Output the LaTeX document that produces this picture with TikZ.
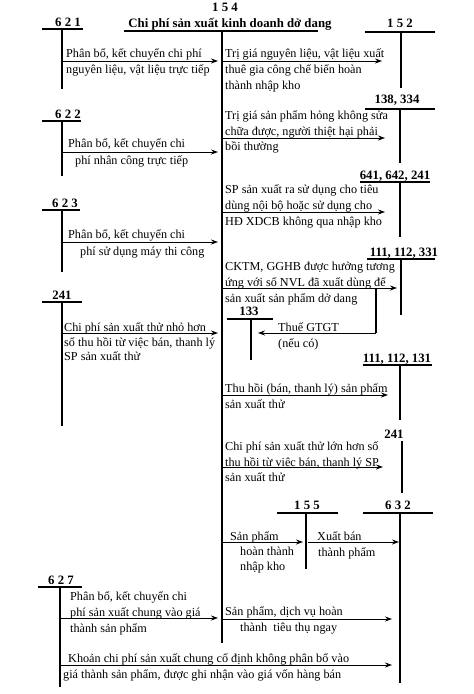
\documentclass[tikz,border=0pt]{standalone}
\usepackage{fontspec}
\setmainfont{Liberation Serif}
\usetikzlibrary{arrows.meta}
\tikzset{
  acct/.style={font=\fontsize{12.8}{15}\selectfont\bfseries, inner sep=0pt, anchor=base},
  txt/.style={font=\fontsize{12.2}{14}\selectfont, inner sep=0pt, anchor=base west},
  tline/.style={line width=1.3pt},
  mainline/.style={line width=2pt},
  flow/.style={->, line width=0.9pt},
}

\begin{document}
\begin{tikzpicture}[x=1pt, y=-1pt, >={Stealth[length=7pt, width=5pt]}]
        \useasboundingbox (0,0) rectangle (474,694);

        % Account 154
        \node[acct] (n154) at (225,11) {1 5 4};
        \node[acct] (t154) at (230,27) {Chi phí sản xuất kinh doanh dở dang};
        \coordinate (top154) at (222,31);
        \coordinate (bot154) at (222,643);
        \draw[tline] (124,31) -- (318,31);
        \draw[mainline] (top154) -- (bot154);

        % Debit side accounts (left)
        \node[acct] (n621) at (68,26) {6 2 1};
        \coordinate (v621) at (62,29);
        \draw[tline] (42,29) -- (83,29);
        \draw[tline] (v621) -- (62,89);

        \node[acct] (n622) at (68,118) {6 2 2};
        \coordinate (v622) at (62,121);
        \draw[tline] (42,121) -- (81,121);
        \draw[tline] (v622) -- (62,176);

        \node[acct] (n623) at (65,207) {6 2 3};
        \coordinate (v623) at (62,210);
        \draw[tline] (42,210) -- (80,210);
        \draw[tline] (v623) -- (62,272);

        \node[acct] (n241a) at (62,299) {241};
        \coordinate (v241a) at (62,302);
        \draw[tline] (42,302) -- (82,302);
        \draw[tline] (v241a) -- (62,426);

        \node[acct] (n627) at (61,584) {6 2 7};
        \coordinate (v627) at (60,587);
        \draw[tline] (38,587) -- (82,587);
        \draw[tline] (v627) -- (60,687);

        % Credit side accounts (right)
        \node[acct] (n152) at (400,27) {1 5 2};
        \coordinate (v152) at (401,32);
        \draw[tline] (365,32) -- (435,32);
        \draw[tline] (v152) -- (401,88);

        \node[acct] (n138) at (397,103) {138, 334};
        \coordinate (v138) at (400,109);
        \draw[tline] (365,109) -- (435,109);
        \draw[tline] (v138) -- (400,163);

        \node[acct] (n641) at (395,179) {641, 642, 241};
        \coordinate (v641) at (400,182);
        \draw[tline] (360,182) -- (430,182);
        \draw[tline] (v641) -- (400,237);

        \node[acct] (n111a) at (404,256) {111, 112, 331};
        \coordinate (v111a) at (401,259);
        \draw[tline] (367,259) -- (435,259);
        \draw[tline] (v111a) -- (401,315);

        \node[acct] (n133) at (249,315) {133};
        \coordinate (v133) at (251,319);
        \draw[tline] (227,319) -- (273,319);
        \draw[tline] (v133) -- (251,360);

        \node[acct] (n111b) at (397,362) {111, 112, 131};
        \coordinate (v111b) at (400,365);
        \draw[tline] (363,365) -- (432,365);
        \draw[tline] (v111b) -- (400,420);

        \node[acct] (n241b) at (394,438) {241};
        \coordinate (v241b) at (402,441);
        \draw[tline] (v241b) -- (402,493);

        \node[acct] (n155) at (307,509) {1 5 5};
        \coordinate (v155) at (306,513);
        \draw[tline] (277,513) -- (338,513);
        \draw[tline] (v155) -- (306,569);

        \node[acct] (n632) at (398,509) {6 3 2};
        \coordinate (v632) at (400,513);
        \draw[tline] (363,513) -- (433,513);
        \draw[tline] (v632) -- (400,683);

        % Arrow end points
        \coordinate (a1) at (62,61);   \coordinate (b1) at (218,61);
        \coordinate (a2) at (62,152);  \coordinate (b2) at (218,152);
        \coordinate (a3) at (62,242);  \coordinate (b3) at (218,242);
        \coordinate (a4) at (62,333);  \coordinate (b4) at (218,333);
        \coordinate (a5) at (60,618);  \coordinate (b5) at (218,618);
        \coordinate (a6) at (60,665);  \coordinate (b6) at (392,665);
        \coordinate (c1) at (222,61);  \coordinate (d1) at (382,61);
        \coordinate (c2) at (222,138); \coordinate (d2) at (385,138);
        \coordinate (c3) at (222,212); \coordinate (d3) at (385,212);
        \coordinate (c4) at (222,288); \coordinate (d4) at (397,288);
        \coordinate (k4) at (376,288); \coordinate (g4) at (376,333);
        \coordinate (t4) at (258,333);
        \coordinate (c5) at (222,395); \coordinate (d5) at (388,395);
        \coordinate (c6) at (222,467); \coordinate (d6) at (383,467);
        \coordinate (c7) at (222,542); \coordinate (d7) at (303,542);
        \coordinate (c8) at (308,542); \coordinate (d8) at (399,542);
        \coordinate (c9) at (222,619); \coordinate (d9) at (392,619);

        % Entries into 154
        \draw[flow] (a1) -- (b1);
        \node[txt] (e1a) at (66,57) {Phân bổ, kết chuyển chi phí};
        \node[txt] (e1b) at (66,73) {nguyên liệu, vật liệu trực tiếp};

        \draw[flow] (a2) -- (b2);
        \node[txt] (e2a) at (68,147) {Phân bổ, kết chuyển chi};
        \node[txt] (e2b) at (75,164) {phí nhân công trực tiếp};

        \draw[flow] (a3) -- (b3);
        \node[txt] (e3a) at (68,238) {Phân bổ, kết chuyển chi};
        \node[txt] (e3b) at (80,255) {phí sử dụng máy thi công};

        \draw[flow] (a4) -- (b4);
        \node[txt] (e4a) at (64,331) {Chi phí sản xuất thử nhỏ hơn};
        \node[txt] (e4b) at (64,346) {số thu hồi từ việc bán, thanh lý};
        \node[txt] (e4c) at (64,360) {SP sản xuất thử};

        \draw[flow] (a5) -- (b5);
        \node[txt] (e5a) at (70,600) {Phân bổ, kết chuyển chi};
        \node[txt] (e5b) at (70,616) {phí sản xuất chung vào giá};
        \node[txt] (e5c) at (70,632) {thành sản phẩm};

        \draw[flow] (a6) -- (b6);
        \node[txt] (e6a) at (68,662) {Khoản chi phí sản xuất chung cố định không phân bổ vào};
        \node[txt] (e6b) at (63,678) {giá thành sản phẩm, được ghi nhận vào giá vốn hàng bán};

        % Entries out of 154
        \draw[flow] (c1) -- (d1);
        \node[txt] (f1a) at (225,57) {Trị giá nguyên liệu, vật liệu xuất};
        \node[txt] (f1b) at (225,73) {thuê gia công chế biến hoàn};
        \node[txt] (f1c) at (225,89) {thành nhập kho};

        \draw[flow] (c2) -- (d2);
        \node[txt] (f2a) at (225,119) {Trị giá sản phẩm hỏng không sửa};
        \node[txt] (f2b) at (225,135) {chữa được, người thiệt hại phải};
        \node[txt] (f2c) at (225,150) {bồi thường};

        \draw[flow] (c3) -- (d3);
        \node[txt] (f3a) at (225,193) {SP sản xuất ra sử dụng cho tiêu};
        \node[txt] (f3b) at (225,209) {dùng nội bộ hoặc sử dụng cho};
        \node[txt] (f3c) at (225,225) {HĐ XDCB không qua nhập kho};

        \draw[flow] (c4) -- (d4);
        \node[txt] (f4a) at (225,270) {CKTM, GGHB được hưởng tương};
        \node[txt] (f4b) at (225,286) {ứng với số NVL đã xuất dùng để};
        \node[txt] (f4c) at (225,302) {sản xuất sản phẩm dở dang};

        % VAT branch
        \draw[tline] (k4) -- (g4);
        \draw[flow] (g4) -- (t4);
        \node[txt] (vat1) at (278,331) {Thuế GTGT};
        \node[txt] (vat2) at (278,347) {(nếu có)};

        \draw[flow] (c5) -- (d5);
        \node[txt] (f5a) at (225,392) {Thu hồi (bán, thanh lý) sản phẩm};
        \node[txt] (f5b) at (225,408) {sản xuất thử};

        \draw[flow] (c6) -- (d6);
        \node[txt] (f6a) at (225,450) {Chi phí sản xuất thử lớn hơn số};
        \node[txt] (f6b) at (225,466) {thu hồi từ việc bán, thanh lý SP};
        \node[txt] (f6c) at (225,481) {sản xuất thử};

        \draw[flow] (c7) -- (d7);
        \node[txt] (f7a) at (230,540) {Sản phẩm};
        \node[txt] (f7b) at (240,555) {hoàn thành};
        \node[txt] (f7c) at (240,570) {nhập kho};

        \draw[flow] (c8) -- (d8);
        \node[txt] (f8a) at (317,540) {Xuất bán};
        \node[txt] (f8b) at (318,556) {thành phẩm};

        \draw[flow] (c9) -- (d9);
        \node[txt] (f9a) at (225,615) {Sản phẩm, dịch vụ hoàn};
        \node[txt] (f9b) at (240,631) {thành\ \ tiêu thụ ngay};
\end{tikzpicture}
\end{document}
